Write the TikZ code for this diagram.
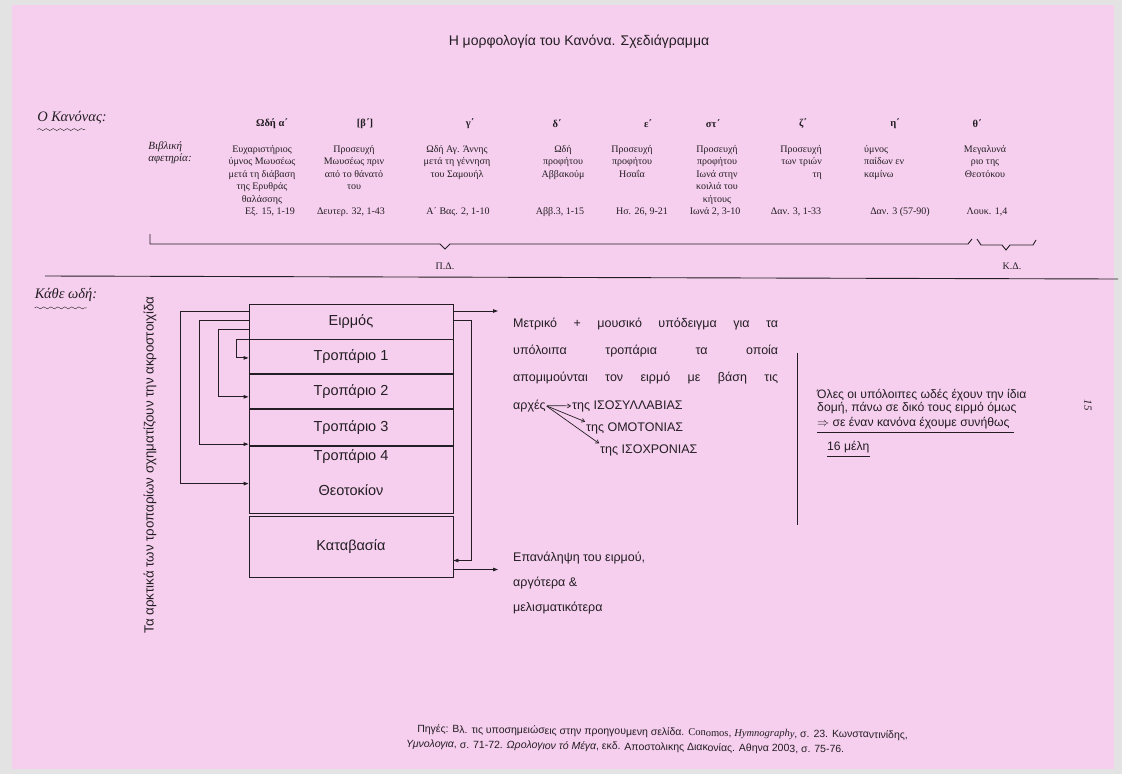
\documentclass[tikz,border=0pt]{standalone}
\usepackage{fontspec}
\setmainfont{Liberation Serif}
\setsansfont{Liberation Sans}
\usetikzlibrary{arrows.meta,positioning,calc,decorations.pathmorphing}
\definecolor{pg}{RGB}{246,207,238}
\definecolor{ink}{RGB}{35,30,35}
\tikzset{hd/.style={inner sep=0pt,font=\fontsize{10.5}{12}\selectfont\bfseries},
 col/.style={inner sep=0pt,align=center,anchor=north,font=\fontsize{10}{12.5}\selectfont},
 ref/.style={inner sep=0pt,font=\fontsize{10}{12}\selectfont},
 hand/.style={inner sep=0pt,align=left,font=\fontsize{14.5}{12}\selectfont\itshape},
 wavy/.style={draw=ink,decorate,decoration={snake,amplitude=1pt,segment length=7pt}},
 sf/.style={inner sep=0pt,font=\sffamily\fontsize{12.5}{14}\selectfont},
 cell/.style={draw=ink,line width=.9pt,minimum width=204pt,inner sep=0pt,font=\sffamily\fontsize{14.5}{16}\selectfont},
 wire/.style={draw=ink,line width=.9pt},arr/.style={wire,-{Triangle[length=5pt,width=3.5pt]}},
 tarr/.style={wire,line width=.7pt,-{Straight Barb[length=3pt,width=4pt]}},
 every node/.style={text=ink}}

\begin{document}
\begin{tikzpicture}[x=1pt,y=-1pt]
\fill[gray!22] (0,0) rectangle (1122,774);
\fill[pg] (12,5) rectangle (1114,769);
\useasboundingbox (0,0) rectangle (1122,774);
\node[sf,font=\sffamily\fontsize{14}{16}\selectfont] (title) at (579,42) {Η μορφολογία του Κανόνα. Σχεδιάγραμμα};
% ο κανόνας: οι εννέα ωδές
\node[hand] (kan) at (72,118) {Ο Κανόνας:};
\draw[wavy] ([yshift=-5pt]kan.south west) -- ++(48,0);
\node[hand,font=\fontsize{11}{12}\selectfont\itshape] (bib) at (170,153) {Βιβλική\\αφετηρία:};
\foreach \nm/\hx/\hd/\tx/\an/\al/\txt/\rx/\rf in {
 a/272/{Ωδή α΄}/262/north/center/{Ευχαριστήριος\\ύμνος Μωυσέως\\μετά τη διάβαση\\της Ερυθράς\\θαλάσσης}/270/{Εξ. 15, 1-19},
 b/365/{[β΄]}/354/north/center/{Προσευχή\\Μωυσέως πριν\\από το θάνατό\\του}/351/{Δευτερ. 32, 1-43},
 c/470/{γ΄}/457/north/center/{Ωδή Αγ. Άννης\\μετά τη γέννηση\\του Σαμουήλ}/458/{Α΄ Βας. 2, 1-10},
 d/557/{δ΄}/563/north/center/{Ωδή\\προφήτου\\Αββακούμ}/560/{Αββ.3, 1-15},
 e/648/{ε΄}/632/north/center/{Προσευχή\\προφήτου\\Ησαΐα}/642/{Ησ. 26, 9-21},
 f/713/{στ΄}/717/north/center/{Προσευχή\\προφήτου\\Ιωνά στην\\κοιλιά του\\κήτους}/715/{Ιωνά 2, 3-10},
 g/803/{ζ΄}/822/north east/right/{Προσευχή\\των τριών\\τη}/796/{Δαν. 3, 1-33},
 h/895/{η΄}/864/north west/left/{ύμνος\\παίδων εν\\καμίνω}/900/{Δαν. 3 (57-90)},
 i/977/{θ΄}/985/north/center/{Μεγαλυνά\\ριο της\\Θεοτόκου}/987/{Λουκ. 1,4}}
{\node[hd] (h\nm) at (\hx,124) {\hd};
 \node[col,anchor=\an,align=\al] (t\nm) at (\tx,145) {\txt};
 \node[ref] (r\nm) at (\rx,212) {\rf};}
\draw[wire] (150,234) |- (440,244) -- (445,249) -- (450,244) -- (968,244) -- ++(4,-5);
\draw[wire] (977,239) -- (981,245) -- (1002,245) -- (1006,250) -- (1010,245) -- (1033,245) -- ++(3,-5);
\node[ref] (pd) at (445,266) {Π.Δ.};
\node[ref] (kd) at (1012,266) {Κ.Δ.};
\draw[wire] (45,276) -- (1118,279);
% κάθε ωδή
\node[hand] (kath) at (66,295) {Κάθε ωδή:};
\draw[wavy] ([yshift=-6pt]kath.south west) -- ++(52,0);
\node[sf,rotate=90,font=\sffamily\fontsize{13.3}{15}\selectfont] (akro) at (150,465) {Τα αρκτικά των τροπαρίων σχηματίζουν την ακροστοιχίδα};
\node[cell,minimum height=35pt] (eir) at (351,321.5) {Ειρμός};
\node[cell,minimum height=34pt,below=0pt of eir] (tr1) {Τροπάριο 1};
\node[cell,minimum height=34pt,below=0pt of tr1] (tr2) {Τροπάριο 2};
\node[cell,minimum height=36pt,below=0pt of tr2] (tr3) {\raisebox{4pt}{Τροπάριο 3}};
\node[cell,minimum height=67pt,below=0pt of tr3] (tht) {};
\node[cell,draw=none] (tr4) at (351,457) {Τροπάριο 4};
\node[cell,draw=none] (theo) at (351,490) {Θεοτοκίον};
\node[cell,minimum height=61pt,below=2pt of tht] (kat) {\raisebox{-4pt}{Καταβασία}};
\draw[arr] ([yshift=10.5pt]eir.west) -- ++(-68,0) |- ([yshift=-3.5pt]tht.west);
\draw[arr] ([yshift=1.5pt]eir.west) -- ++(-49,0) |- ([yshift=2pt]tr3.south west);
\draw[arr] ([yshift=-7.5pt]eir.west) -- ++(-30,0) |- ([yshift=-5pt]tr2.west);
\draw[arr] (eir.south west) -- ++(-12,0) |- ([yshift=-1pt]tr1.west);
% δεξιά
\node[sf,anchor=north west,align=left,font=\sffamily\fontsize{12.5}{27}\selectfont] (metr) at (513,318)
 {\makebox[265pt][s]{Μετρικό + μουσικό υπόδειγμα για τα}\\\makebox[265pt][s]{υπόλοιπα τροπάρια τα οποία}\\\makebox[265pt][s]{απομιμούνται τον ειρμό με βάση τις}};
\node[sf,anchor=base west] (arx) at (513,409) {αρχές};
\node[sf,anchor=base west] (isos) at (572,409) {της ΙΣΟΣΥΛΛΑΒΙΑΣ};
\node[sf,anchor=base west] (omot) at (586,431) {της ΟΜΟΤΟΝΙΑΣ};
\node[sf,anchor=base west] (isox) at (600,453) {της ΙΣΟΧΡΟΝΙΑΣ};
\foreach \tg in {isos.west,omot.north west,isox.north west}
 \draw[tarr,shorten <=1pt,shorten >=1pt] (arx.east) -- (\tg);
\node[sf,anchor=north west,align=left,font=\sffamily\fontsize{12.5}{25}\selectfont] (epan) at (513,552) {Επανάληψη του ειρμού,\\αργότερα \&\\μελισματικότερα};
\draw[arr,shorten >=15pt] ([yshift=10.5pt]eir.east) -- ([yshift=10.5pt]eir.east -| metr.west);
\draw[arr] ([yshift=1.5pt]eir.east) -- ++(18,0) |- ([yshift=-13.5pt]kat.east);
\draw[arr,shorten >=15pt] ([yshift=-22.5pt]kat.east) -- ([yshift=-22.5pt]kat.east -| epan.west);
\draw[wire] (797,353) -- (797,525);
\node[sf,anchor=north west,align=left,font=\sffamily\fontsize{12.2}{13}\selectfont] (oles) at (817,389) {Όλες οι υπόλοιπες ωδές έχουν την ίδια\\δομή, πάνω σε δικό τους ειρμό όμως};
\node[sf,anchor=north west,font=\sffamily\fontsize{12.2}{13}\selectfont] (sen) at (817,417) {$\Rightarrow$ σε έναν κανόνα έχουμε συνήθως};
\draw[wire] ([yshift=-3pt]sen.south west) -- ([yshift=-3pt,xshift=4pt]sen.south east);
\node[sf,anchor=north west,font=\sffamily\fontsize{12.2}{13}\selectfont] (mel) at (827,441) {16 μέλη};
\draw[wire] ([yshift=-3pt]mel.south west) -- ([yshift=-3pt]mel.south east);
\node[hand,rotate=-90,font=\fontsize{11}{12}\selectfont\itshape] (pgno) at (1088,405) {15};
% πηγές
\node[sf,anchor=west,rotate=-0.7,align=left,font=\sffamily\fontsize{10.5}{15}\selectfont] (src) at (406,737)
 {\hspace*{11pt}Πηγές: Βλ. τις υποσημειώσεις στην προηγουμενη σελίδα. {\rmfamily Conomos}, {\rmfamily\itshape Hymnography}, σ. 23. Κωνσταντινίδης,\\{\itshape Υμνολογια}, σ. 71-72. {\itshape Ωρολογιον τό Μέγα}, εκδ. Αποστολικης Διακονίας. Αθηνα 2003, σ. 75-76.};
\end{tikzpicture}
\end{document}
